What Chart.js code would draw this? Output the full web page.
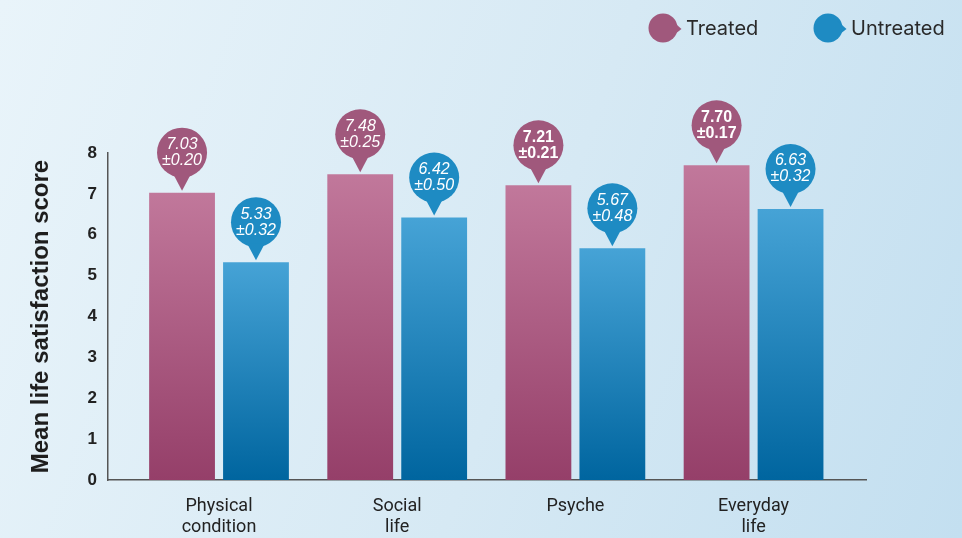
<!DOCTYPE html>
<html>
<head>
<meta charset="utf-8">
<script src="https://cdn.jsdelivr.net/npm/chart.js@4"></script>
<style>
  html, body { margin: 0; padding: 0; }
  body {
    width: 962px; height: 538px; overflow: hidden;
    background: linear-gradient(110deg, #e9f4fa 0%, #d6e9f4 55%, #c3dff0 100%);
  }
  canvas { display: block; }
</style>
</head>
<body>
<canvas id="grafikSkor" width="962" height="538"></canvas>
<script>
// kategori dan nilai rata-rata tiap kelompok
const categories = [["Physical", "condition"], ["Social", "life"], "Psyche", ["Everyday", "life"]];
const treated = [7.03, 7.48, 7.21, 7.70];
const treatedErr = [0.20, 0.25, 0.21, 0.17];
const treatedBold = [false, false, true, true];
const untreated = [5.33, 6.42, 5.67, 6.63];
const untreatedErr = [0.32, 0.50, 0.48, 0.32];
const untreatedBold = [false, false, false, false];
const yMin = 0;
const yMax = 8;

function gradienBatang(atas, bawah) {
    return (context) => {
        const chart = context.chart;
        if (!chart.chartArea || context.type !== "data") return bawah;
        const y = chart.scales.y;
        const g = chart.ctx.createLinearGradient(0, y.getPixelForValue(context.raw), 0, y.getPixelForValue(0));
        g.addColorStop(0, atas);
        g.addColorStop(1, bawah);
        return g;
    };
}

function gambarPin(ctx, cx, cy, r, arah) {
    ctx.beginPath();
    ctx.arc(cx, cy, r, 0, Math.PI * 2);
    ctx.fill();
    ctx.beginPath();
    if (arah === "bawah") {
        ctx.moveTo(cx - 9, cy + r - 4);
        ctx.lineTo(cx, cy + r + 13);
        ctx.lineTo(cx + 9, cy + r - 4);
    } else {
        ctx.moveTo(cx + r - 5, cy - 7);
        ctx.lineTo(cx + r + 4, cy + 1);
        ctx.lineTo(cx + r - 5, cy + 8);
    }
    ctx.closePath();
    ctx.fill();
}

// label nilai berbentuk pin di atas tiap batang
const labelPin = {
    id: "labelPin",
    afterDatasetsDraw(chart) {
        const ctx = chart.ctx;
        chart.data.datasets.forEach((ds, di) => {
            chart.getDatasetMeta(di).data.forEach((bar, i) => {
                const cx = bar.x;
                const cy = bar.y - 40;
                ctx.save();
                ctx.fillStyle = ds.pinColor;
                gambarPin(ctx, cx, cy, 25, "bawah");
                ctx.fillStyle = "#ffffff";
                ctx.textAlign = "center";
                ctx.textBaseline = "middle";
                ctx.font = (ds.bold[i] ? "bold " : "italic ") + "16px 'Liberation Sans', Arial, sans-serif";
                ctx.fillText(ds.data[i].toFixed(2), cx, cy - 8);
                ctx.fillText("\u00b1" + ds.err[i].toFixed(2), cx, cy + 8);
                ctx.restore();
            });
        });
    }
};

// legenda di pojok kanan atas
const legendaPin = {
    id: "legendaPin",
    afterDraw(chart) {
        const ctx = chart.ctx;
        const posisi = [663, 828];
        ctx.save();
        chart.data.datasets.forEach((ds, di) => {
            const cx = posisi[di];
            ctx.fillStyle = ds.pinColor;
            gambarPin(ctx, cx, 28, 14.5, "kanan");
            ctx.fillStyle = "#2a2a2a";
            ctx.font = "20px Inter, sans-serif";
            ctx.textBaseline = "middle";
            ctx.textAlign = "left";
            ctx.fillText(ds.label, cx + 23, 29);
        });
        ctx.restore();
    }
};

function buatGrafik() {
    const ctx = document.getElementById("grafikSkor");

    new Chart(ctx, {
        type: "bar",
        data: {
            labels: categories.map((c, i) => i),
            datasets: [{
                label: "Treated",
                data: treated,
                err: treatedErr,
                bold: treatedBold,
                pinColor: "#a0587c",
                backgroundColor: gradienBatang("#c1789b", "#953f69")
            }, {
                label: "Untreated",
                data: untreated,
                err: untreatedErr,
                bold: untreatedBold,
                pinColor: "#1e8bc3",
                backgroundColor: gradienBatang("#46a3d6", "#00659f")
            }]
        },
        options: {
            responsive: false,
            animation: false,
            categoryPercentage: 0.83,
            barPercentage: 0.89,
            layout: { padding: { top: 153, right: 96, left: 0, bottom: 0 } },
            plugins: {
                legend: { display: false },
                tooltip: { enabled: false }
            },
            scales: {
                x: {
                    type: "linear",
                    min: -0.623,
                    max: 3.631,
                    offset: false,
                    grid: { display: false, drawTicks: false },
                    border: { color: "#555555", width: 1.5 },
                    afterFit: (s) => { s.height = 58; },
                    ticks: {
                        stepSize: 1,
                        includeBounds: false,
                        autoSkip: false,
                        maxRotation: 0,
                        padding: 16,
                        color: "#222222",
                        font: { family: "Roboto, sans-serif", size: 18, lineHeight: 1.17 },
                        callback: (v) => Number.isInteger(v) ? categories[v] : null
                    }
                },
                y: {
                    min: yMin,
                    max: yMax,
                    grid: { display: false, drawTicks: false },
                    border: { color: "#555555", width: 1.5 },
                    afterFit: (s) => { s.width = 108; },
                    ticks: {
                        stepSize: 1,
                        padding: 11,
                        color: "#222222",
                        font: { family: "'Liberation Sans', Arial, sans-serif", size: 17, weight: "bold" }
                    },
                    title: {
                        display: true,
                        text: "Mean life satisfaction score",
                        color: "#1e1e1e",
                        padding: { top: 27, bottom: 0 },
                        font: { family: "'Liberation Sans', Arial, sans-serif", size: 24, weight: "bold" }
                    }
                }
            }
        },
        plugins: [labelPin, legendaPin]
    });
}

buatGrafik();
</script>
</body>
</html>
